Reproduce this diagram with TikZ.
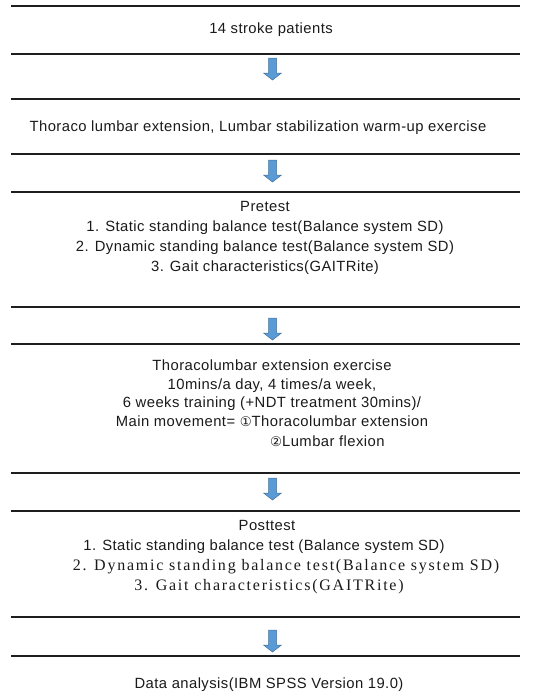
\documentclass[tikz,border=0pt]{standalone}
\usepackage{fontspec}
\setmainfont[LetterSpace=3]{Liberation Sans}
\newfontfamily\serifline[LetterSpace=11]{Liberation Serif}
\newfontfamily\circfont[Scale=0.9]{DejaVu Sans}
\definecolor{rulecol}{HTML}{1E1E1E}
\definecolor{txtcol}{HTML}{1A1A1A}
\definecolor{arrowfill}{HTML}{5B9BD5}
\definecolor{arrowline}{HTML}{41719C}
\tikzset{
  sep/.style={draw=rulecol, line width=1.4pt},
  txt/.style={text=txtcol, inner sep=0pt, align=center, font=\fontsize{14.8}{20}\selectfont},
  downarrow/.pic={
    \filldraw[fill=arrowfill, draw=arrowline, line width=0.5pt]
      (-4,0) -- (4,0) -- (4,15) -- (9,15) -- (0,22) -- (-9,15) -- (-4,15) -- cycle;
  }
}
\begin{document}
\begin{tikzpicture}[x=1pt, y=-1pt]
\useasboundingbox (0,0) rectangle (545,699);
% separator rules
\foreach \yy in {6,54,99,154,192,307,344,473,511,617,656}
  \draw[sep] (11,\yy) -- (520,\yy);
% arrows
\pic at (272.5,58) {downarrow};
\pic at (272.5,160) {downarrow};
\pic at (272.5,318) {downarrow};
\pic at (272.5,478) {downarrow};
\pic at (272.5,630) {downarrow};
% texts
\node[txt] (t1) at (271,30) {14 stroke patients};
\node[txt] (t2) at (258,128) {Thoraco lumbar extension, Lumbar stabilization warm-up exercise};
\node[txt] (t3) at (265,238) {Pretest\\
1. Static standing balance test(Balance system SD)\\
2. Dynamic standing balance test(Balance system SD)\\
3. Gait characteristics(GAITRite)};
\node[txt, font=\fontsize{14.8}{18.5}\selectfont] (t4) at (272,393) {Thoracolumbar extension exercise\\
10mins/a day, 4 times/a week,\\
6 weeks training (+NDT treatment 30mins)/\\
Main movement= {\circfont ①}Thoracolumbar extension};
\node[txt, anchor=west] (t4b) at (270,441) {{\circfont ②}Lumbar flexion};
\node[txt] (t5) at (264,557) {\hspace*{6pt}Posttest\\
1. Static standing balance test (Balance system SD)\\
\hspace*{44pt}{\serifline\fontsize{16}{20}\selectfont 2. Dynamic standing balance test(Balance system SD)}\\
\hspace*{10pt}{\serifline\fontsize{16}{20}\selectfont 3. Gait characteristics(GAITRite)}};
\node[txt] (t6) at (269,685) {Data analysis(IBM SPSS Version 19.0)};
\end{tikzpicture}
\end{document}
